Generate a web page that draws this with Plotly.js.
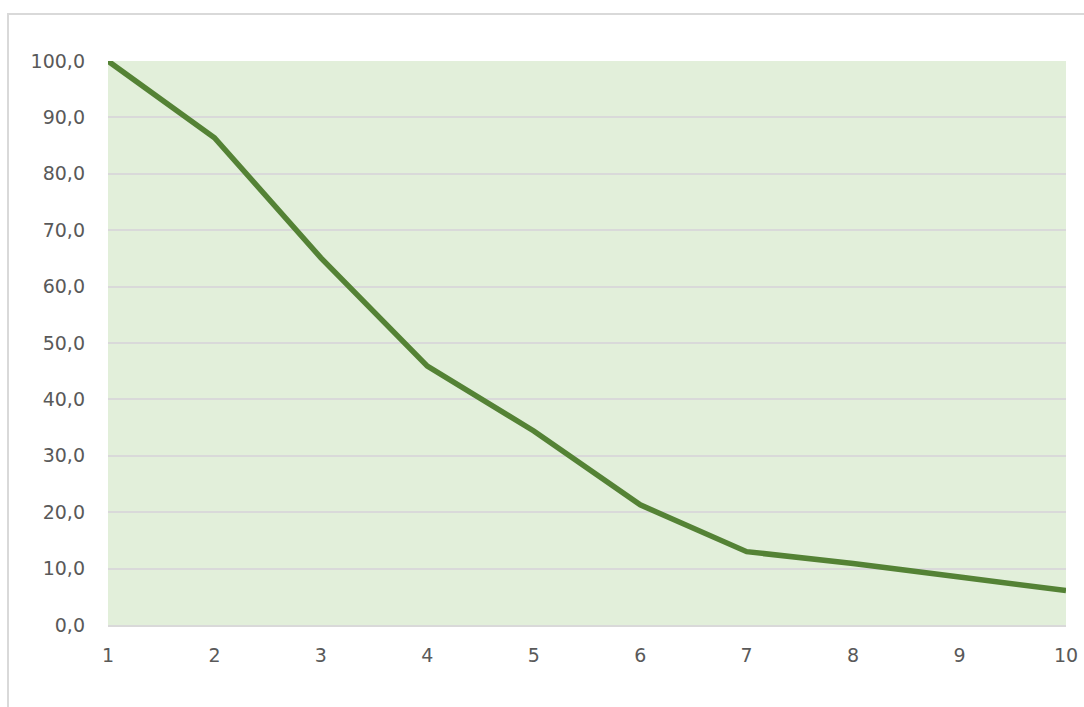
<!DOCTYPE html>
<html>
<head>
<meta charset="utf-8">
<script src="https://cdn.plot.ly/plotly-3.0.1.min.js"></script>
<style>
  html, body { margin: 0; padding: 0; background: #fff; overflow: hidden; }
  #frame { position: absolute; left: 7px; top: 13px; width: 1100px; height: 720px;
           border-left: 2px solid #D9D9D9; border-top: 2px solid #D9D9D9; }
  #chart { position: absolute; left: 0; top: 0; width: 1084px; height: 707px; }
</style>
</head>
<body>
<div id="frame"></div>
<div id="chart"></div>
<script>
const xValues = [1, 2, 3, 4, 5, 6, 7, 8, 9, 10];
const yValues = [100.0, 86.4, 65.1, 45.9, 34.4, 21.3, 13.0, 10.9, 8.5, 6.1];
const yTicks = [0, 10, 20, 30, 40, 50, 60, 70, 80, 90, 100];

const trace = {
  x: xValues,
  y: yValues,
  type: 'scatter',
  mode: 'lines',
  line: { color: '#548235', width: 5.5 },
  hoverinfo: 'x+y'
};

const tickFont = { family: 'DejaVu Sans, Open Sans, sans-serif', size: 19, color: '#595959' };

const layout = {
  width: 1084,
  height: 707,
  margin: { l: 108, r: 18, t: 61, b: 82 },
  paper_bgcolor: 'rgba(0,0,0,0)',
  plot_bgcolor: '#E2EFDA',
  separators: ', ',
  showlegend: false,
  font: tickFont,
  xaxis: {
    range: [1, 10],
    tickvals: xValues,
    ticktext: xValues.map(String),
    tickfont: tickFont,
    showgrid: false,
    zeroline: false,
    showline: true,
    linecolor: '#D9D9D9',
    linewidth: 2,
    ticks: '',
    ticklabelstandoff: 12,
    fixedrange: true
  },
  yaxis: {
    range: [0, 100],
    tickvals: yTicks,
    tickformat: '.1f',
    tickfont: tickFont,
    showgrid: true,
    gridcolor: '#D9D9D9',
    gridwidth: 2,
    zeroline: false,
    showline: false,
    ticks: '',
    ticklabelstandoff: 22,
    fixedrange: true
  }
};

Plotly.newPlot('chart', [trace], layout, { displayModeBar: false, staticPlot: true });
</script>
</body>
</html>
